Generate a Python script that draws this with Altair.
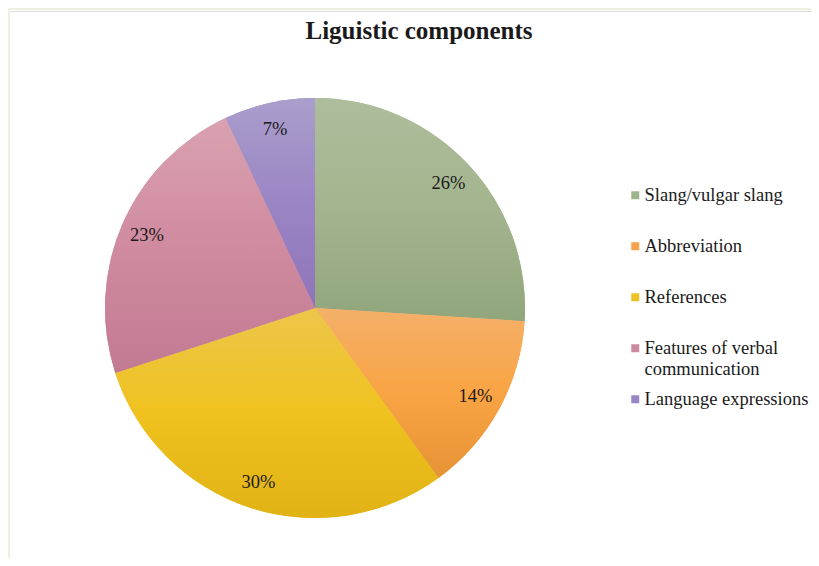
import altair as alt
import pandas as pd

title_text = "Liguistic components"
categories = ["Slang/vulgar slang", "Abbreviation", "References",
              "Features of verbal communication", "Language expressions"]
values = [26, 14, 30, 23, 7]
legend_colors = ["#9fb48a", "#f7a24a", "#ecc126", "#cc8aa0", "#9b86c4"]
gradient_stops = [
    ["#aebd9c", "#a3b48e", "#91a67c"],
    ["#f4b06a", "#f9a444", "#e69335"],
    ["#ecc64a", "#f0c21f", "#e0b214"],
    ["#d9a2b0", "#d08ba0", "#c27a92"],
    ["#aa9ecc", "#9a85c4", "#8f74b8"],
]

df = pd.DataFrame({"category": categories, "value": values})
total = sum(values)

W, H = 803, 547
CX, CY, R = 307, 297, 210
FONT = "'Liberation Serif', 'Times New Roman', 'DejaVu Serif', serif"

base = alt.Chart(df).transform_window(
    cum="sum(value)", frame=[None, 0]
).transform_calculate(
    start="datum.cum - datum.value",
    mid="datum.cum - datum.value / 2",
    pct="datum.value + '%'",
)

theta_scale = alt.Scale(domain=[0, total])

legend_arc = base.mark_arc(radius=R).encode(
    theta=alt.Theta("start:Q", scale=theta_scale),
    theta2="cum:Q",
    x=alt.value(CX),
    y=alt.value(CY),
    color=alt.Color(
        "category:N",
        scale=alt.Scale(domain=categories, range=legend_colors),
        legend=alt.Legend(
            title=None,
            orient="none",
            legendX=618,
            legendY=175,
            symbolType="square",
            symbolSize=64,
            symbolStrokeWidth=0,
            labelFont=FONT,
            labelFontSize=18.5,
            labelColor="#1a1a1a",
            labelOffset=0,
            labelLimit=300,
            rowPadding=11,
            padding=0,
            labelExpr="datum.label == 'Features of verbal communication' ? ['Features of verbal', 'communication'] : [datum.label, '']",
        ),
    ),
)

layers = [legend_arc]
for cat, stops in zip(categories, gradient_stops):
    grad = alt.Gradient(
        gradient="linear",
        stops=[alt.GradientStop(color=stops[0], offset=0),
               alt.GradientStop(color=stops[1], offset=0.5),
               alt.GradientStop(color=stops[2], offset=1)],
        x1=0, x2=0, y1=0, y2=1,
    )
    layers.append(
        base.transform_filter(alt.datum.category == cat).mark_arc(
            radius=R, color=grad
        ).encode(
            theta=alt.Theta("start:Q", scale=theta_scale),
            theta2="cum:Q",
            x=alt.value(CX),
            y=alt.value(CY),
        )
    )

labels = base.mark_text(
    radius=183, font=FONT, fontSize=18.5, color="#1a1a1a"
).encode(
    theta=alt.Theta("mid:Q", scale=theta_scale),
    text="pct:N",
    x=alt.value(CX),
    y=alt.value(CY),
)
layers.append(labels)

title = alt.Chart(pd.DataFrame({"t": [title_text]})).mark_text(
    font=FONT, fontSize=25, fontWeight="bold", color="#1a1a1a",
    align="center", baseline="alphabetic",
).encode(text="t:N", x=alt.value(411), y=alt.value(28))

frame_left = alt.Chart(df).mark_rule(color="#efefdf", strokeWidth=2).encode(
    x=alt.value(1), y=alt.value(-3), y2=alt.value(H)
)
frame_top = alt.Chart(df).mark_rule(color="#efefdf", strokeWidth=2).encode(
    x=alt.value(0), x2=alt.value(W), y=alt.value(-2)
)

chart = alt.layer(frame_left, frame_top, *layers, title).properties(
    width=W,
    height=H,
    autosize=alt.AutoSizeParams(type="none"),
    padding={"left": 0, "top": 3, "right": 0, "bottom": 0},
).configure_view(stroke=None).configure(background="white")

chart.save("out.html", embed_options={"renderer": "svg", "actions": False})
